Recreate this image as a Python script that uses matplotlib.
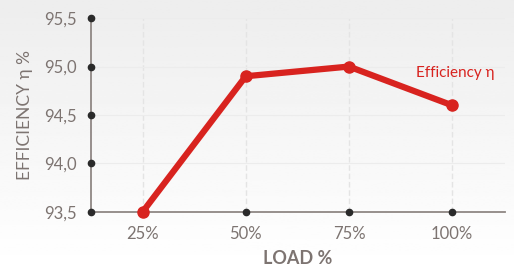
import matplotlib
matplotlib.use("Agg")
import matplotlib.pyplot as plt
import numpy as np

categories = ["25%", "50%", "75%", "100%"]
efficiency = [93.5, 94.9, 95.0, 94.6]
yticks = [93.5, 94.0, 94.5, 95.0, 95.5]
ytick_labels = ["93,5", "94,0", "94,5", "95,0", "95,5"]

plt.rcParams['font.family'] = ['Lato', 'DejaVu Sans']
grey = '#7d7471'
red = '#d8231f'

fig = plt.figure(figsize=(5.14, 2.70), dpi=100)
# background gradient
bg = fig.add_axes([0, 0, 1, 1], zorder=-10)
grad = np.linspace(0.93, 1.0, 100).reshape(-1, 1)
bg.imshow(grad, aspect='auto', cmap='gray', vmin=0, vmax=1, extent=[0, 1, 1, 0])
bg.axis('off')

ax = fig.add_axes([0.177, 0.215, 0.805, 0.718])
ax.patch.set_alpha(0)
x = np.arange(len(categories))

ax.set_xlim(-0.5, 3.51)
ax.set_ylim(93.5, 95.5)

for xi in x:
    ax.axvline(xi, color='#e4e4e4', lw=1.0, ls=(0, (4, 2)), zorder=0)
for yi in yticks[1:]:
    ax.axhline(yi, color='#ececec', lw=0.8, zorder=0)

ax.plot(x, efficiency, color=red, lw=4.5, marker='o', ms=8, zorder=5, clip_on=False, solid_capstyle='round')

# tick dots
ax.plot(np.full(len(yticks), -0.5), yticks, 'o', color='#2a2a2a', ms=4.5, clip_on=False, zorder=4)
ax.plot(x[1:], np.full(3, 93.5), 'o', color='#2a2a2a', ms=4.5, clip_on=False, zorder=4)

for s in ['top', 'right']:
    ax.spines[s].set_visible(False)
for s in ['left', 'bottom']:
    ax.spines[s].set_color('#8f8784')
    ax.spines[s].set_linewidth(1.3)

ax.set_xticks(x)
ax.set_xticklabels(categories)
ax.set_yticks(yticks)
ax.set_yticklabels(ytick_labels)
ax.tick_params(length=0, labelsize=12, colors=grey, pad=10)
ax.tick_params(axis='y', pad=10)

ax.set_xlabel("LOAD %", color=grey, fontsize=13, fontweight='bold', labelpad=6)
ax.set_ylabel("EFFICIENCY η %", color=grey, fontsize=12.5, labelpad=8)

ax.text(3.03, 94.93, "Efficiency η", color=red, fontsize=11, ha='center', va='center')

fig.savefig("out.png", dpi=100)
